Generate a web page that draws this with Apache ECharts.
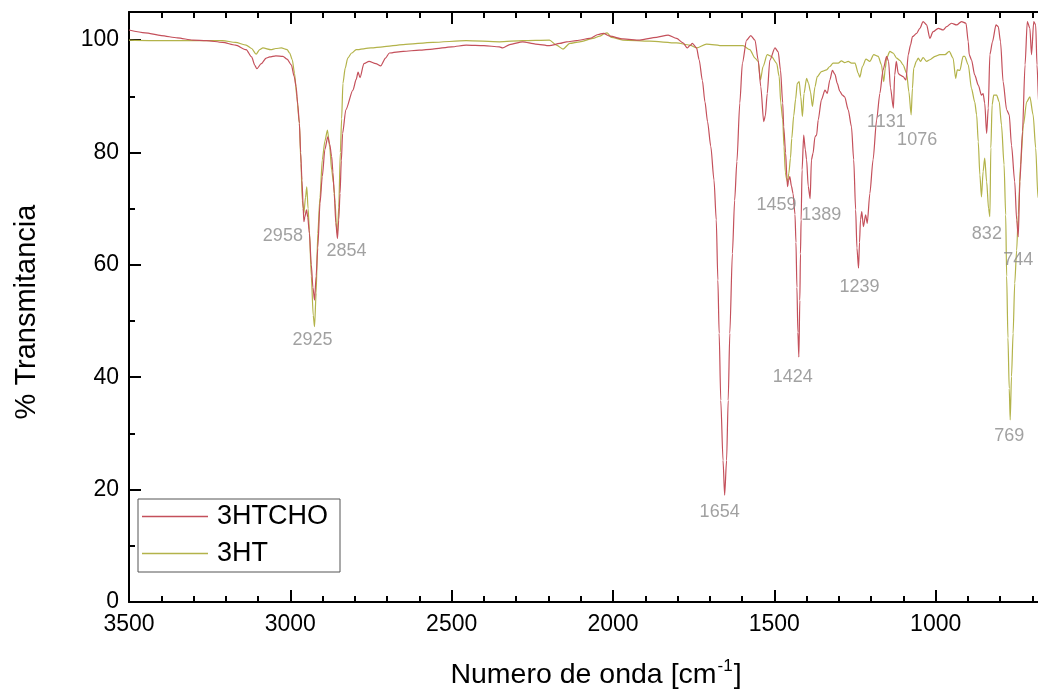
<!DOCTYPE html>
<html>
<head>
<meta charset="utf-8">
<script src="https://cdn.jsdelivr.net/npm/echarts@6/dist/echarts.min.js"></script>
<style>
  html, body { margin: 0; padding: 0; background: #ffffff; }
  #chart { width: 1038px; height: 690px; }
</style>
</head>
<body>
<div id="chart"></div>
<script>
// FTIR spectra: [wavenumber (cm-1), transmittance (%)]
const spectrum3HTCHO = [
  [3500,101.8],[3450,101.3],[3400,100.8],[3350,100.4],[3302,100.0],[3260,99.9],[3210,99.6],[3170,99.1],
  [3137,98.3],[3120,97.0],[3110,95.5],[3104,94.9],[3090,95.8],[3075,96.8],[3064,97.0],[3045,97.2],
  [3023,97.1],[3010,96.6],[2997,95.6],[2988,93.5],[2982,91.7],[2977,88.5],[2972,85.2],[2968,80.0],
  [2964,75.1],[2960,70.0],[2958,67.7],[2955,68.5],[2950,69.8],[2946,68.5],[2941,65.6],[2935,60.0],
  [2930,56.0],[2925,53.7],[2920,58.0],[2915,63.0],[2908,71.0],[2901,75.7],[2893,80.5],[2884,82.8],
  [2878,81.5],[2872,79.3],[2868,76.5],[2864,72.7],[2859,67.5],[2854,64.7],[2850,68.0],[2846,72.7],
  [2842,78.5],[2838,83.4],[2828,87.6],[2806,91.1],[2796,93.0],[2790,94.3],[2784,93.3],[2772,95.8],
  [2756,96.2],[2735,95.8],[2720,95.4],[2705,96.8],[2693,97.7],[2650,98.0],[2600,98.2],[2559,98.4],
  [2500,98.8],[2455,99.1],[2400,99.0],[2352,98.8],[2342,98.6],[2320,99.2],[2280,99.7],[2240,99.3],
  [2197,99.0],[2165,99.4],[2144,99.7],[2113,99.9],[2072,100.3],[2046,101.0],[2030,101.2],[2010,100.7],
  [1969,100.2],[1917,100.0],[1865,100.5],[1829,100.9],[1803,100.3],[1783,99.5],[1770,98.6],[1762,99.0],
  [1754,99.4],[1741,98.6],[1733,96.5],[1723,92.8],[1715,89.0],[1707,85.5],[1697,81.1],[1687,75.1],
  [1680,68.0],[1675,57.3],[1671,47.8],[1666,35.9],[1659,25.2],[1654,19.0],[1648,25.2],[1643,35.9],
  [1638,47.8],[1630,62.0],[1623,71.5],[1616,78.4],[1607,88.8],[1599,95.9],[1586,100.0],[1573,100.8],
  [1560,100.0],[1550,96.4],[1542,91.7],[1533,85.5],[1528,86.5],[1522,90.5],[1514,96.4],[1498,98.6],
  [1488,97.9],[1481,94.7],[1474,88.8],[1471,84.6],[1465,79.9],[1461,75.5],[1459,73.9],[1456,75.0],
  [1452,75.7],[1447,74.0],[1442,72.7],[1436,69.0],[1433,64.0],[1430,56.0],[1427,48.0],[1424,43.6],
  [1421,53.7],[1419,62.0],[1417,68.0],[1414,76.9],[1409,83.1],[1404,80.5],[1400,78.7],[1395,74.0],
  [1389,71.8],[1385,78.7],[1380,79.9],[1374,82.8],[1369,83.1],[1364,85.8],[1354,89.4],[1343,91.1],
  [1336,90.5],[1328,92.9],[1320,94.6],[1312,93.9],[1305,92.3],[1297,90.9],[1289,90.2],[1282,89.9],
  [1271,87.6],[1261,84.6],[1254,78.7],[1248,69.8],[1244,63.0],[1239,59.4],[1236,64.0],[1233,68.0],
  [1229,69.5],[1224,66.8],[1217,68.9],[1212,67.4],[1204,72.7],[1194,78.7],[1183,85.8],[1173,90.5],
  [1163,94.7],[1152,97.1],[1146,96.2],[1140,91.5],[1131,87.9],[1127,93.8],[1122,96.2],[1116,94.1],
  [1111,93.8],[1101,93.5],[1092,92.9],[1085,97.4],[1078,99.1],[1072,100.6],[1059,101.2],[1049,102.1],
  [1039,103.3],[1028,102.7],[1018,100.3],[1008,101.5],[992,102.1],[977,101.8],[966,102.4],[951,103.0],
  [935,102.7],[920,103.3],[906,103.0],[899,99.7],[896,97.4],[889,96.5],[879,93.8],[868,92.0],
  [858,90.2],[853,90.5],[848,88.8],[842,83.4],[837,87.9],[832,97.4],[824,99.7],[813,102.7],
  [806,102.4],[799,99.7],[791,92.6],[780,87.6],[772,86.7],[765,81.3],[755,74.8],[749,68.0],
  [744,65.0],[739,74.8],[731,83.7],[723,95.6],[716,103.3],[708,102.1],[703,97.4],[696,103.3],
  [690,102.7],[686,95.6],[680,88.0],[672,84.0]
];

const spectrum3HT = [
  [3500,100.0],[3400,99.9],[3300,99.9],[3210,99.9],[3170,99.6],[3137,99.1],[3120,98.5],[3106,97.5],
  [3095,98.3],[3085,98.6],[3060,98.3],[3045,98.5],[3028,98.6],[3010,98.3],[3002,97.7],[2994,96.5],
  [2987,94.1],[2980,90.0],[2972,85.2],[2967,78.0],[2963,71.5],[2958,69.2],[2953,72.0],[2949,73.9],
  [2945,70.0],[2941,66.2],[2935,58.0],[2929,51.0],[2925,49.0],[2920,55.0],[2915,65.6],[2908,72.0],
  [2901,78.7],[2893,82.0],[2885,84.0],[2878,81.0],[2872,76.9],[2866,74.5],[2861,71.0],[2857,66.5],
  [2854,65.6],[2850,70.3],[2845,80.0],[2841,86.0],[2837,92.3],[2830,95.0],[2822,96.8],[2810,97.7],
  [2796,98.3],[2750,98.6],[2714,98.8],[2650,99.2],[2559,99.6],[2455,99.9],[2352,99.7],[2280,99.9],
  [2197,100.0],[2175,99.1],[2155,98.4],[2134,99.4],[2103,99.7],[2062,100.3],[2041,100.7],[2025,101.2],
  [2018,101.3],[2005,100.5],[1969,100.0],[1886,99.8],[1803,99.5],[1762,99.1],[1741,98.6],[1710,99.3],
  [1659,99.0],[1597,99.0],[1576,98.3],[1560,96.8],[1550,96.2],[1543,92.9],[1535,95.3],[1522,97.4],
  [1509,97.1],[1493,95.9],[1485,93.5],[1480,88.8],[1474,85.8],[1470,81.0],[1466,76.5],[1462,75.3],
  [1459,74.8],[1455,76.3],[1450,79.0],[1446,82.5],[1440,86.5],[1434,89.5],[1429,92.3],[1423,92.6],
  [1418,89.9],[1413,86.4],[1408,90.5],[1400,93.2],[1394,92.3],[1388,90.8],[1382,88.2],[1374,91.7],
  [1367,93.5],[1354,94.4],[1338,94.7],[1328,95.3],[1318,95.9],[1302,95.9],[1292,96.3],[1282,96.0],
  [1271,96.2],[1261,95.9],[1250,95.9],[1240,94.1],[1235,93.4],[1227,95.3],[1216,96.6],[1204,96.2],
  [1192,97.4],[1178,97.1],[1168,95.6],[1161,92.6],[1156,95.0],[1152,96.8],[1142,98.0],[1132,97.7],
  [1121,96.8],[1111,96.4],[1101,95.6],[1090,94.1],[1083,90.8],[1076,86.7],[1072,91.4],[1068,95.0],
  [1060,96.2],[1054,96.8],[1047,96.2],[1039,96.9],[1028,96.2],[1018,96.5],[1002,97.1],[987,97.4],
  [971,97.4],[958,98.0],[946,96.8],[938,93.2],[933,94.7],[925,94.6],[915,97.1],[910,97.1],
  [899,95.6],[889,91.4],[879,89.0],[873,86.7],[868,81.9],[863,76.0],[858,72.1],[853,76.6],
  [848,79.0],[842,74.8],[836,70.0],[832,68.6],[829,80.8],[825,88.5],[820,90.2],[811,90.2],
  [803,89.0],[796,84.9],[788,77.8],[783,68.9],[780,58.0],[776,47.0],[772,38.0],[769,32.4],
  [765,40.1],[760,47.8],[755,56.7],[749,62.6],[744,68.9],[737,77.8],[728,84.9],[718,89.0],
  [708,89.9],[698,86.7],[690,80.8],[683,72.0],[675,65.0]
];

// Labelled absorption bands (cm-1), grouped by the spectrum they mark
const bands3HTCHO = [2958, 2854, 1654, 1459, 1424, 1389, 1239, 1131, 744];
const bands3HT = [2925, 1076, 832, 769];

const seriesNames = ['3HTCHO', '3HT'];
const yTicks = [0, 20, 40, 60, 80, 100];

// Pixel nudges for the band labels relative to the band minimum
const labelNudge = {
  2958: [-21, 14], 2854: [9, 13], 2925: [-2, 13], 1654: [-5, 17], 1459: [-11, 18],
  1424: [-6, 20], 1389: [11, 16], 1239: [1, 19], 1131: [-7, 14], 1076: [6, 25],
  832: [-3, 17], 769: [-1, 16], 744: [0, 23]
};

const COLORS = { '3HTCHO': '#c4505b', '3HT': '#b3b34a' };
const FONT = "'Liberation Sans', Arial, sans-serif";

function depthAt(spectrum, wn) {
  const p = spectrum.find(d => d[0] === wn);
  return p ? p[1] : null;
}

const bandPoints = []
  .concat(bands3HTCHO.map(wn => [wn, depthAt(spectrum3HTCHO, wn)]))
  .concat(bands3HT.map(wn => [wn, depthAt(spectrum3HT, wn)]))
  .map(p => ({ value: p, label: { offset: labelNudge[p[0]] } }));

const axisLineStyle = { color: '#000', width: 2 };

// Ticks point into the plot: negative length flips them across the axis line
function xAxisBase() {
  return {
    type: 'value', inverse: true, min: 500, max: 3500, interval: 500,
    splitLine: { show: false },
    axisLine: { show: true, onZero: false, lineStyle: { color: '#000', width: 2 } },
    axisTick: { show: true, inside: false, length: -12, lineStyle: { color: '#000', width: 2 } },
    minorTick: { show: true, splitNumber: 5, length: -6, lineStyle: { color: '#000', width: 2 } },
    minorSplitLine: { show: false }
  };
}

const chart = echarts.init(document.getElementById('chart'), null, { renderer: 'canvas' });

chart.setOption({
  backgroundColor: '#ffffff',
  animation: false,
  grid: { left: 129, top: 12, right: -59, bottom: 88, containLabel: false, outerBoundsMode: 'none' },
  legend: {
    data: seriesNames,
    orient: 'vertical',
    left: 138, top: 499,
    padding: [4, 12, 5, 4],
    itemGap: 10,
    itemWidth: 66,
    itemHeight: 1.4,
    icon: 'rect',
    borderColor: '#555', borderWidth: 1,
    textStyle: { fontFamily: FONT, fontSize: 27, lineHeight: 26, color: '#000', padding: [0, 0, 0, 4] }
  },
  xAxis: [
    Object.assign(xAxisBase(), {
      position: 'bottom',
      name: 'Numero de onda [cm{sup|-1}]',
      nameLocation: 'middle', nameGap: 56,
      nameTextStyle: {
        fontFamily: FONT, fontSize: 28.5, color: '#000', lineHeight: 34, padding: [0, 34, 0, 0],
        rich: { sup: { fontFamily: FONT, fontSize: 17, color: '#000', verticalAlign: 'top', lineHeight: 34, padding: [0, 1, 12, 1] } }
      },
      axisLabel: { fontFamily: FONT, fontSize: 23, color: '#000', margin: 11, formatter: v => String(v) }
    }),
    Object.assign(xAxisBase(), {
      position: 'top',
      axisLabel: { show: false }
    })
  ],
  yAxis: [
    {
      type: 'value', min: 0, max: 105, interval: 20, position: 'left',
      name: '% Transmitancia', nameLocation: 'middle', nameGap: 88,
      nameTextStyle: { fontFamily: FONT, fontSize: 29, color: '#000', padding: [0, 10, 0, 0] },
      splitLine: { show: false },
      axisLine: { show: true, onZero: false, lineStyle: axisLineStyle },
      axisTick: { show: true, inside: false, length: -12, lineStyle: { color: '#000', width: 2 } },
      axisLabel: {
        fontFamily: FONT, fontSize: 23, color: '#000', margin: 10, showMaxLabel: false,
        formatter: v => (yTicks.indexOf(v) >= 0 ? String(v) : '')
      }
    },
    {
      type: 'value', min: 0, max: 105, interval: 10, position: 'left',
      splitLine: { show: false },
      axisLine: { show: false, onZero: false },
      axisTick: { show: true, inside: false, length: -6, lineStyle: { color: '#000', width: 2 } },
      axisLabel: { show: false }
    }
  ],
  series: [
    {
      name: '3HTCHO', type: 'line', data: spectrum3HTCHO,
      xAxisIndex: 0, yAxisIndex: 0,
      symbol: 'none', smooth: 0.25, smoothMonotone: 'x',
      color: COLORS['3HTCHO'],
      lineStyle: { color: COLORS['3HTCHO'], width: 1.2 },
      z: 3
    },
    {
      name: '3HT', type: 'line', data: spectrum3HT,
      xAxisIndex: 0, yAxisIndex: 0,
      symbol: 'none', smooth: 0.25, smoothMonotone: 'x',
      color: COLORS['3HT'],
      lineStyle: { color: COLORS['3HT'], width: 1.2 },
      z: 2
    },
    {
      name: 'bands', type: 'scatter', data: bandPoints,
      xAxisIndex: 0, yAxisIndex: 0,
      symbolSize: 0, silent: true, z: 5,
      label: {
        show: true, position: 'inside',
        fontFamily: FONT, fontSize: 18, color: '#8a8a8a',
        formatter: p => String(p.value[0])
      }
    }
  ]
});
</script>
</body>
</html>
